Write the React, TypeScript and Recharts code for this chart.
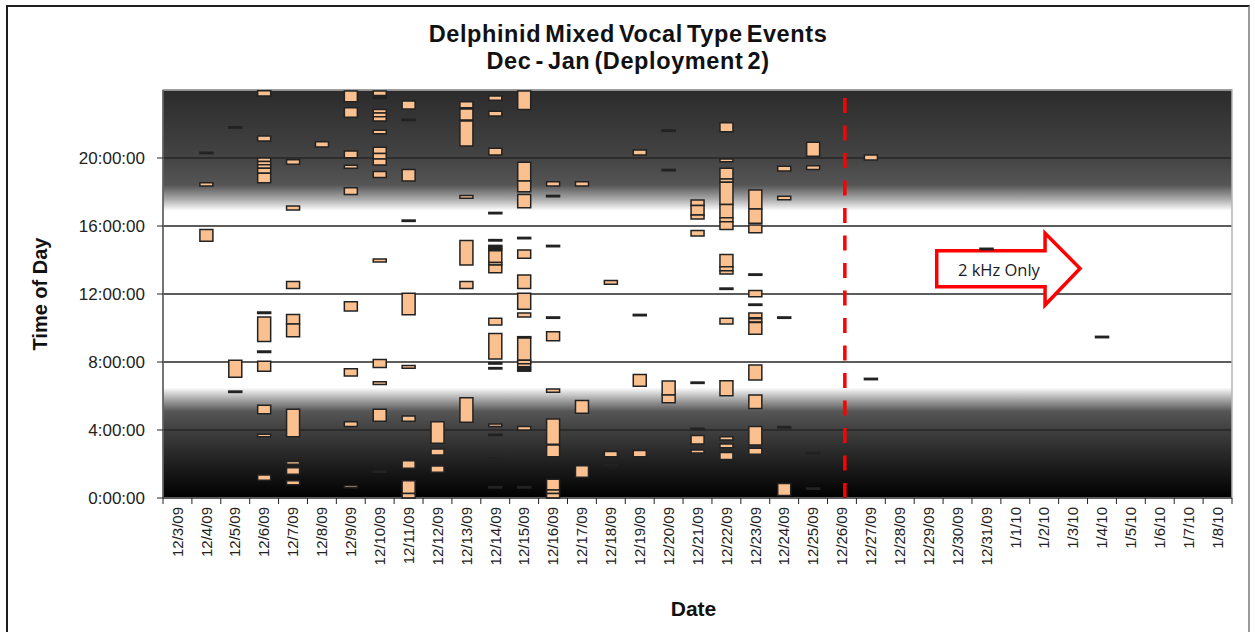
import {
  Bar,
  CartesianGrid,
  Cell,
  ComposedChart,
  Label,
  ReferenceArea,
  ReferenceLine,
  XAxis,
  YAxis,
} from "recharts";

const PEACH = "#fac08f";
const EDGE = "#222";

const DATES = [
  "12/3/09", "12/4/09", "12/5/09", "12/6/09", "12/7/09", "12/8/09", "12/9/09",
  "12/10/09", "12/11/09", "12/12/09", "12/13/09", "12/14/09", "12/15/09",
  "12/16/09", "12/17/09", "12/18/09", "12/19/09", "12/20/09", "12/21/09",
  "12/22/09", "12/23/09", "12/24/09", "12/25/09", "12/26/09", "12/27/09",
  "12/28/09", "12/29/09", "12/30/09", "12/31/09", "1/1/10", "1/2/10",
  "1/3/10", "1/4/10", "1/5/10", "1/6/10", "1/7/10", "1/8/10",
];

const Y_TICKS = [0, 4, 8, 12, 16, 20];

// detections with a visible duration: [date, start hour, end hour]
const BOXES: [string, number, number][] = [
  ["12/4/09", 18.35, 18.55], ["12/4/09", 15.1, 15.8],
  ["12/5/09", 7.1, 8.1],
  ["12/6/09", 23.65, 23.95], ["12/6/09", 21.0, 21.3], ["12/6/09", 19.8, 20.0],
  ["12/6/09", 19.6, 19.8], ["12/6/09", 19.4, 19.6], ["12/6/09", 19.1, 19.4],
  ["12/6/09", 18.55, 19.1], ["12/6/09", 9.2, 10.65], ["12/6/09", 7.45, 8.05],
  ["12/6/09", 4.95, 5.45], ["12/6/09", 3.6, 3.75], ["12/6/09", 1.05, 1.35],
  ["12/7/09", 19.63, 19.9], ["12/7/09", 16.94, 17.18], ["12/7/09", 12.33, 12.73],
  ["12/7/09", 10.24, 10.8], ["12/7/09", 9.49, 10.24], ["12/7/09", 3.61, 5.22],
  ["12/7/09", 1.98, 2.14], ["12/7/09", 1.39, 1.78], ["12/7/09", 0.78, 1.02],
  ["12/8/09", 20.65, 20.96],
  ["12/9/09", 23.31, 23.94], ["12/9/09", 22.39, 22.96], ["12/9/09", 20.02, 20.41],
  ["12/9/09", 19.39, 19.57], ["12/9/09", 17.86, 18.25], ["12/9/09", 11.0, 11.55],
  ["12/9/09", 7.18, 7.61], ["12/9/09", 4.2, 4.49], ["12/9/09", 0.61, 0.72],
  ["12/10/09", 23.67, 23.94], ["12/10/09", 22.65, 22.86], ["12/10/09", 22.43, 22.65],
  ["12/10/09", 22.18, 22.43], ["12/10/09", 21.43, 21.63], ["12/10/09", 20.27, 20.63],
  ["12/10/09", 19.94, 20.27], ["12/10/09", 19.59, 19.94], ["12/10/09", 18.86, 19.2],
  ["12/10/09", 13.88, 14.06], ["12/10/09", 7.67, 8.14], ["12/10/09", 6.67, 6.84],
  ["12/10/09", 4.51, 5.22],
  ["12/11/09", 22.88, 23.35], ["12/11/09", 18.65, 19.33], ["12/11/09", 10.78, 12.04],
  ["12/11/09", 7.63, 7.8], ["12/11/09", 4.51, 4.82], ["12/11/09", 1.75, 2.19],
  ["12/11/09", 0.27, 1.02], ["12/11/09", 0.0, 0.27],
  ["12/12/09", 3.22, 4.49], ["12/12/09", 2.53, 2.88], ["12/12/09", 1.51, 1.88],
  ["12/13/09", 22.96, 23.31], ["12/13/09", 22.24, 22.88], ["12/13/09", 20.71, 22.18],
  ["12/13/09", 17.63, 17.8], ["12/13/09", 13.71, 15.14], ["12/13/09", 12.33, 12.73],
  ["12/13/09", 4.46, 5.9],
  ["12/14/09", 23.39, 23.65], ["12/14/09", 22.47, 22.75], ["12/14/09", 20.18, 20.57],
  ["12/14/09", 13.86, 14.55], ["12/14/09", 13.71, 13.86], ["12/14/09", 13.25, 13.71],
  ["12/14/09", 10.18, 10.57], ["12/14/09", 8.18, 9.67], ["12/14/09", 4.2, 4.35],
  ["12/15/09", 22.86, 23.94], ["12/15/09", 18.65, 19.75], ["12/15/09", 18.02, 18.65],
  ["12/15/09", 17.08, 17.86], ["12/15/09", 14.1, 14.59], ["12/15/09", 12.33, 13.12],
  ["12/15/09", 11.1, 12.04], ["12/15/09", 10.65, 10.88], ["12/15/09", 8.1, 9.45],
  ["12/15/09", 7.9, 8.1], ["12/15/09", 7.72, 7.9], ["12/15/09", 4.0, 4.2],
  ["12/16/09", 18.35, 18.61], ["12/16/09", 9.25, 9.78], ["12/16/09", 6.22, 6.41],
  ["12/16/09", 3.16, 4.65], ["12/16/09", 2.43, 3.12], ["12/16/09", 0.47, 1.1],
  ["12/16/09", 0.27, 0.47], ["12/16/09", 0.0, 0.27],
  ["12/17/09", 18.35, 18.61], ["12/17/09", 4.98, 5.73], ["12/17/09", 1.22, 1.9],
  ["12/18/09", 12.57, 12.8], ["12/18/09", 2.43, 2.73],
  ["12/19/09", 20.18, 20.47], ["12/19/09", 6.57, 7.27], ["12/19/09", 2.43, 2.8],
  ["12/20/09", 6.06, 6.88], ["12/20/09", 5.61, 6.06],
  ["12/21/09", 17.2, 17.53], ["12/21/09", 16.65, 17.2], ["12/21/09", 16.41, 16.65],
  ["12/21/09", 15.41, 15.73], ["12/21/09", 3.18, 3.67], ["12/21/09", 2.65, 2.82],
  ["12/22/09", 21.55, 22.08], ["12/22/09", 19.78, 19.94], ["12/22/09", 18.76, 19.39],
  ["12/22/09", 18.57, 18.76], ["12/22/09", 17.27, 18.57], ["12/22/09", 16.49, 17.27],
  ["12/22/09", 16.25, 16.49], ["12/22/09", 15.8, 16.25], ["12/22/09", 13.61, 14.33],
  ["12/22/09", 13.37, 13.61], ["12/22/09", 13.18, 13.37], ["12/22/09", 10.24, 10.57],
  ["12/22/09", 6.02, 6.9], ["12/22/09", 3.41, 3.61], ["12/22/09", 2.96, 3.18],
  ["12/22/09", 2.27, 2.67],
  ["12/23/09", 17.0, 18.12], ["12/23/09", 16.16, 17.0], ["12/23/09", 15.61, 16.06],
  ["12/23/09", 11.84, 12.2], ["12/23/09", 10.61, 10.88], ["12/23/09", 10.35, 10.55],
  ["12/23/09", 9.63, 10.33], ["12/23/09", 6.94, 7.82], ["12/23/09", 5.27, 6.06],
  ["12/23/09", 3.12, 4.2], ["12/23/09", 2.57, 2.92],
  ["12/24/09", 19.24, 19.51], ["12/24/09", 17.55, 17.75], ["12/24/09", 0.14, 0.86],
  ["12/25/09", 20.1, 20.92], ["12/25/09", 19.33, 19.55],
  ["12/27/09", 19.88, 20.18],
];

// very short detections, drawn as black ticks: [date, hour]
const DASHES: [string, number][] = [
  ["12/4/09", 20.3], ["12/5/09", 21.8], ["12/5/09", 6.25],
  ["12/6/09", 10.9], ["12/6/09", 8.6],
  ["12/10/09", 23.55], ["12/10/09", 1.55],
  ["12/11/09", 22.24], ["12/11/09", 16.31],
  ["12/14/09", 16.76], ["12/14/09", 15.16], ["12/14/09", 14.62], ["12/14/09", 14.72],
  ["12/14/09", 14.82], ["12/14/09", 7.92], ["12/14/09", 7.63], ["12/14/09", 3.71],
  ["12/14/09", 2.31], ["12/14/09", 0.63],
  ["12/15/09", 15.29], ["12/15/09", 9.45], ["12/15/09", 7.62], ["12/15/09", 7.5],
  ["12/15/09", 0.63],
  ["12/16/09", 17.76], ["12/16/09", 14.82], ["12/16/09", 10.61],
  ["12/18/09", 1.94], ["12/19/09", 10.76],
  ["12/20/09", 21.61], ["12/20/09", 19.29],
  ["12/21/09", 6.78], ["12/21/09", 4.06],
  ["12/22/09", 12.31],
  ["12/23/09", 13.14], ["12/23/09", 11.37],
  ["12/24/09", 10.61], ["12/24/09", 4.16],
  ["12/25/09", 2.63], ["12/25/09", 0.55],
  ["12/27/09", 7.0], ["12/31/09", 14.65], ["1/4/10", 9.47],
];

const DASH_HALF = 0.04;

const EVENTS = [
  ...BOXES.map(([d, lo, hi]) => ({ day: DATES.indexOf(d), range: [lo, hi], dash: false })),
  ...DASHES.map(([d, h]) => ({ day: DATES.indexOf(d), range: [h - DASH_HALF, h + DASH_HALF], dash: true })),
];

const TICK_SIZE = 6;
const TICK_GAP = 3;

function DateTick(props: any) {
  const { x, y, width, index, payload } = props;
  const step = width / DATES.length;
  const top = y - TICK_SIZE - TICK_GAP;
  const last = index === DATES.length - 1;
  return (
    <g>
      <line x1={x - step / 2} x2={x - step / 2} y1={top} y2={top + TICK_SIZE} stroke="#222" />
      {last && <line x1={x + step / 2} x2={x + step / 2} y1={top} y2={top + TICK_SIZE} stroke="#222" />}
      <text
        x={x}
        y={y}
        transform={`rotate(-90 ${x} ${y})`}
        textAnchor="end"
        dy="0.35em"
        fontSize={15}
        fill="#222"
      >
        {DATES[payload.value]}
      </text>
    </g>
  );
}

function ArrowShape(props: any) {
  const { x, y, width: w, height: h } = props;
  const bodyTop = y + h * 0.243;
  const bodyBot = y + h * 0.745;
  const headX = x + w * 0.756;
  const pts = [
    [x, bodyTop], [headX, bodyTop], [headX, y], [x + w, y + h * 0.49],
    [headX, y + h], [headX, bodyBot], [x, bodyBot],
  ].map((p) => p.join(",")).join(" ");
  return (
    <g>
      <polygon points={pts} fill="#fff" stroke="#ff0000" strokeWidth={3.5} />
      <text
        x={x + w * 0.148}
        y={y + h * 0.51}
        dy="0.35em"
        fontSize={16.5}
        fill="#1a1a26"
        style={{ fontFamily: "'Open Sans', 'Noto Sans', sans-serif" }}
      >
        2 kHz Only
      </text>
    </g>
  );
}

export default function App() {
  return (
    <div
      style={{
        position: "absolute",
        left: 6,
        top: 5,
        width: 1244,
        height: 640,
        boxSizing: "border-box",
        borderLeft: "2px solid #1e1e1e",
        borderTop: "2px solid #1e1e1e",
        borderRight: "2px solid #9a9a9a",
        background: "#fff",
        fontFamily: "'Liberation Sans', Arial, sans-serif",
      }}
    >
      <div
        style={{
          position: "absolute",
          left: 0,
          right: 0,
          top: 14,
          textAlign: "center",
          fontWeight: 700,
          fontSize: 23.5,
          lineHeight: "27px",
          color: "#111",
          letterSpacing: 0.6,
          wordSpacing: -3,
        }}
      >
        Delphinid Mixed Vocal Type Events
        <br />
        Dec - Jan (Deployment 2)
      </div>
      <ComposedChart
        width={1239}
        height={636}
        data={EVENTS}
        margin={{ top: 83, right: 15, bottom: 20, left: 10 }}
        style={{ position: "absolute", left: 0, top: 0 }}
      >
        <defs>
          <linearGradient id="nightDay" x1="0" y1="0" x2="0" y2="1">
            <stop offset="0" stopColor="#2b2b2b" />
            <stop offset="0.1667" stopColor="#444444" />
            <stop offset="0.233" stopColor="#555555" />
            <stop offset="0.267" stopColor="#a8a8a8" />
            <stop offset="0.296" stopColor="#ffffff" />
            <stop offset="0.729" stopColor="#ffffff" />
            <stop offset="0.758" stopColor="#a8a8a8" />
            <stop offset="0.7875" stopColor="#565656" />
            <stop offset="0.833" stopColor="#404040" />
            <stop offset="0.917" stopColor="#1e1e1e" />
            <stop offset="1" stopColor="#000000" />
          </linearGradient>
        </defs>
        <CartesianGrid fill="url(#nightDay)" vertical={false} stroke="#262626" strokeWidth={1.3} />
        <XAxis
          dataKey="day"
          type="number"
          domain={[-0.5, DATES.length - 0.5]}
          ticks={DATES.map((_, i) => i)}
          interval={0}
          tick={<DateTick />}
          tickLine={false}
          tickSize={TICK_SIZE}
          tickMargin={TICK_GAP}
          axisLine={{ stroke: "#222" }}
          height={125}
        >
          <Label
            value="Date"
            position="insideBottom"
            offset={7}
            dx={-4}
            style={{ fontWeight: 700, fontSize: 21, fill: "#111" }}
          />
        </XAxis>
        <YAxis
          type="number"
          domain={[0, 24]}
          ticks={Y_TICKS}
          interval={0}
          width={145}
          tickFormatter={(h: number) => `${h}:00:00`}
          tick={{ fontSize: 17, fill: "#222" }}
          tickSize={6}
          tickMargin={12}
          axisLine={{ stroke: "#222" }}
          tickLine={{ stroke: "#222" }}
        >
          <Label
            content={(p: any) => {
              const vb = p.viewBox;
              const cx = vb.x + 22;
              const cy = vb.y + vb.height / 2;
              return (
                <text
                  x={cx}
                  y={cy}
                  transform={`rotate(-90 ${cx} ${cy})`}
                  textAnchor="middle"
                  dy="0.35em"
                  fontSize={20}
                  fontWeight={700}
                  fill="#111"
                >
                  Time of Day
                </text>
              );
            }}
          />
        </YAxis>
        <ReferenceArea
          x1={-0.5}
          x2={DATES.length - 0.5}
          y1={0}
          y2={24}
          fill="none"
          stroke="#b5b5b5"
          strokeWidth={1.5}
        />
        <Bar dataKey="range" barSize={13} stroke={EDGE} strokeWidth={1.5} isAnimationActive={false}>
          {EVENTS.map((e, i) => (
            <Cell key={i} fill={e.dash ? "#111" : PEACH} />
          ))}
        </Bar>
        <ReferenceLine x={23.1} stroke="#ff0000" strokeWidth={3.5} strokeDasharray="15 12.5" />
        <ReferenceArea x1={26.28} x2={31.24} y1={11.35} y2={15.57} shape={<ArrowShape />} />
      </ComposedChart>
    </div>
  );
}
